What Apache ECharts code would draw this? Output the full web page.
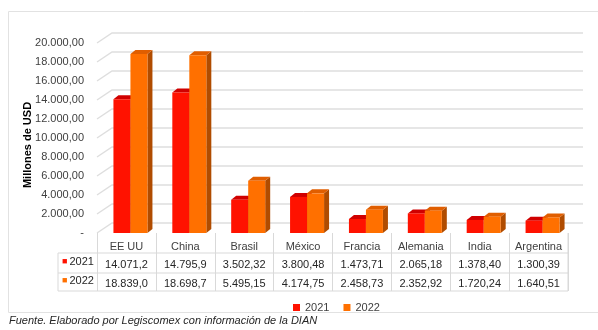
<!DOCTYPE html>
<html><head><meta charset="utf-8">
<script src="https://cdn.jsdelivr.net/npm/echarts@6/dist/echarts.min.js"></script>
<style>html,body{margin:0;padding:0;background:#fff}#c{width:598px;height:330px}</style>
</head><body><div id="c"></div>
<script>
const categories = ['EE UU','China','Brasil','México','Francia','Alemania','India','Argentina'];
const v2021 = [14071.2, 14795.9, 3502.32, 3800.48, 1473.71, 2065.18, 1378.40, 1300.39];
const v2022 = [18839.0, 18698.7, 5495.15, 4174.75, 2458.73, 2352.92, 1720.24, 1640.51];
const t2021 = ['14.071,2','14.795,9','3.502,32','3.800,48','1.473,71','2.065,18','1.378,40','1.300,39'];
const t2022 = ['18.839,0','18.698,7','5.495,15','4.174,75','2.458,73','2.352,92','1.720,24','1.640,51'];
const yTicks = [0,2000,4000,6000,8000,10000,12000,14000,16000,18000,20000];
const seriesNames = ['2021','2022'];

const FONT = 'Liberation Sans, Arial, sans-serif';
const C = {
  red:   {front:'#ff1200', top:'#d00000', side:'#a00000'},
  orange:{front:'#ff7000', top:'#e05e00', side:'#b04c00'}
};
const DX = 15, DY = -10;      // back wall offset
const BDX = 5, BDY = -4;      // bar depth
const BW = 17;                // bar width

const gridLeft = 97, gridRight = 30, gridTop = 43, gridBottom = 97;

function fmtY(v){
  if (v === 0) return '-';
  const s = Math.round(v).toString().replace(/\B(?=(\d{3})+(?!\d))/g,'.');
  return s + ',00';
}

function wallItem(params, api){
  const v = api.value(0);
  const cat = api.size([1,0])[0];
  const p0 = api.coord([0, v]);
  const p1 = api.coord([categories.length-1, v]);
  const xl = p0[0] - cat/2, xr = p1[0] + cat/2, y = p0[1];
  return {
    type:'polyline', silent:true, z2:0,
    shape:{points:[[xl,y],[xl+DX,y+DY],[xr+DX,y+DY]]},
    style:{stroke:'#dedede', lineWidth:1.4, fill:null}
  };
}

function barItemFactory(which, col){
  return function(params, api){
    const ci = api.value(0), v = api.value(1);
    const top = api.coord([ci, v]);
    const base = api.coord([ci, 0]);
    const cx = top[0] + 4;
    const x0 = which === 0 ? cx - BW : cx;
    const x1 = x0 + BW;
    const yt = top[1], yb = base[1];
    return {
      type:'group',
      children:[
        {type:'polygon', shape:{points:[[x1,yt],[x1+BDX,yt+BDY],[x1+BDX,yb+BDY],[x1,yb]]}, style:{fill:col.side}},
        {type:'polygon', shape:{points:[[x0,yt],[x0+BDX,yt+BDY],[x1+BDX,yt+BDY],[x1,yt]]}, style:{fill:col.top}},
        {type:'rect', shape:{x:x0, y:yt, width:BW, height:yb-yt}, style:{fill:col.front}}
      ]
    };
  };
}

const chart = echarts.init(document.getElementById('c'), null, {renderer:'canvas'});

const tableLeft = 58;
const tableRight = 598 - gridRight;
const axisY = 330 - gridBottom;
const rowLines = [axisY + 20, axisY + 40, axisY + 58];

chart.setOption({
  animation:false,
  backgroundColor:'#fff',
  textStyle:{fontFamily:FONT},
  grid:{left:gridLeft, right:gridRight, top:gridTop, bottom:gridBottom},
  xAxis:{
    type:'category', data:categories,
    axisLine:{show:false},
    axisTick:{show:true, inside:false, length:58, interval:0, lineStyle:{color:'#d9d9d9', width:1}},
    axisLabel:{
      interval:0, margin:5, color:'#404040',
      formatter:function(val, idx){
        return '{c|'+val+'}\n{v|'+t2021[idx]+'}\n{v|'+t2022[idx]+'}';
      },
      rich:{
        c:{fontSize:11, lineHeight:17, color:'#404040', fontFamily:FONT},
        v:{fontSize:11, lineHeight:19, color:'#262626', fontFamily:FONT}
      }
    },
    splitLine:{show:false}
  },
  yAxis:{
    type:'value', min:0, max:20000, interval:2000,
    axisLine:{show:false}, axisTick:{show:false}, splitLine:{show:false},
    axisLabel:{formatter:fmtY, color:'#404040', fontSize:11, margin:13, padding:[6,0,0,0], fontFamily:FONT},
    name:'Millones de USD', nameLocation:'middle', nameGap:64, nameRotate:90, nameMoveOverlap:false,
    nameTextStyle:{fontWeight:'bold', fontSize:11, color:'#000', fontFamily:FONT, padding:[0,0,0,-14]}
  },
  legend:{
    data:seriesNames, left:288, top:297, itemWidth:7, itemHeight:7, itemGap:14,
    icon:'rect', textStyle:{fontSize:11, color:'#404040', fontFamily:FONT}
  },
  graphic:[
    {type:'rect', shape:{x:8.5, y:11.5, width:620, height:301}, style:{fill:null, stroke:'#e2e2e2', lineWidth:1}, z:-10, silent:true},
    {type:'line', shape:{x1:tableLeft, y1:rowLines[0], x2:tableRight, y2:rowLines[0]}, style:{stroke:'#d9d9d9', lineWidth:1}},
    {type:'line', shape:{x1:tableLeft, y1:rowLines[1], x2:tableRight, y2:rowLines[1]}, style:{stroke:'#d9d9d9', lineWidth:1}},
    {type:'line', shape:{x1:tableLeft, y1:rowLines[2], x2:tableRight, y2:rowLines[2]}, style:{stroke:'#d9d9d9', lineWidth:1}},
    {type:'line', shape:{x1:tableLeft, y1:rowLines[0], x2:tableLeft, y2:rowLines[2]}, style:{stroke:'#d9d9d9', lineWidth:1}},
    {type:'line', shape:{x1:tableRight, y1:axisY, x2:tableRight, y2:rowLines[2]}, style:{stroke:'#d9d9d9', lineWidth:1}},
    {type:'text', left:62, top:rowLines[0]+3, style:{text:'{r|■}{t|'+seriesNames[0]+'}', rich:{r:{fill:C.red.front, fontSize:9, padding:[0,2,0,0]}, t:{fill:'#262626', fontSize:11, fontFamily:FONT}}}},
    {type:'text', left:62, top:rowLines[1]+2, style:{text:'{r|■}{t|'+seriesNames[1]+'}', rich:{r:{fill:C.orange.front, fontSize:9, padding:[0,2,0,0]}, t:{fill:'#262626', fontSize:11, fontFamily:FONT}}}},
    {type:'text', left:9, top:315, style:{text:'Fuente. Elaborado por Legiscomex con información de la DIAN', fill:'#262626', fontSize:11, fontStyle:'italic', fontFamily:FONT}}
  ],
  series:[
    {type:'custom', name:'wall', silent:true, z:0, renderItem:wallItem,
     data:yTicks.map(v=>[v]), encode:{y:0}},
    {type:'custom', name:seriesNames[0], z:2, itemStyle:{color:C.red.front},
     renderItem:barItemFactory(0, C.red),
     data:v2021.map((v,i)=>[i,v]), encode:{x:0, y:1}},
    {type:'custom', name:seriesNames[1], z:3, itemStyle:{color:C.orange.front},
     renderItem:barItemFactory(1, C.orange),
     data:v2022.map((v,i)=>[i,v]), encode:{x:0, y:1}}
  ]
});
</script></body></html>
